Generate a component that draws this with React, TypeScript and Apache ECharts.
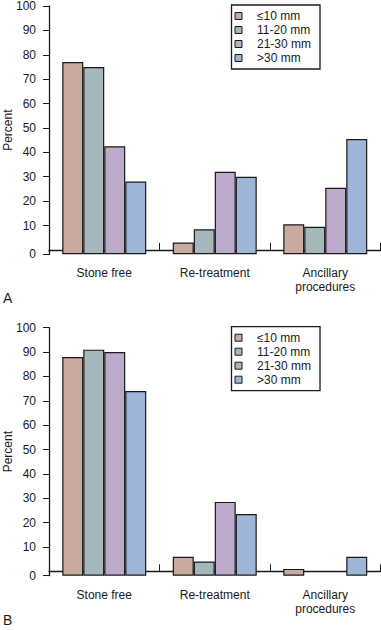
import React, { useEffect, useRef } from "react";
import * as echarts from "echarts";

// Categories and series
const categories = ["Stone free", "Re-treatment", "Ancillary\nprocedures"];
const sizeGroups = ["≤10 mm", "11-20 mm", "21-30 mm", ">30 mm"];

// Panel A values (percent)
const panelA_le10 = [77, 3, 10.5];
const panelA_11to20 = [75, 8.5, 9.5];
const panelA_21to30 = [42.5, 32, 25.5];
const panelA_gt30 = [28, 30, 45.5];

// Panel B values (percent); 0 = no bar drawn
const panelB_le10 = [88, 6, 1];
const panelB_11to20 = [91, 4, 0];
const panelB_21to30 = [90, 28.5, 0];
const panelB_gt30 = [74, 23.5, 6];

// Y tick values (the axis baseline sits slightly below 0 and is labelled "0")
const axisBase = -1.8;
const yTickValues = [axisBase, 10, 20, 30, 40, 50, 60, 70, 80, 90, 100];

const barColors = ["#c8aaa0", "#a5b7ba", "#bdaacb", "#9fb5d7"];
const FONT = "Liberation Sans, Arial, Helvetica, sans-serif";
const INK = "#1a1a1a";

export default function App() {
  const ref = useRef<HTMLDivElement>(null);

  useEffect(() => {
    if (!ref.current) return;
    const chart = echarts.init(ref.current, undefined, { renderer: "svg" });

    const panels = [
      { top: 6, height: 248.3, data: [panelA_le10, panelA_11to20, panelA_21to30, panelA_gt30] },
      { top: 327.7, height: 248, data: [panelB_le10, panelB_11to20, panelB_21to30, panelB_gt30] },
    ];

    const grid = panels.map((p) => ({
      left: 49,
      right: 0.5,
      top: p.top,
      height: p.height,
      containLabel: false,
      outerBoundsMode: "none",
    }));

    const xAxis = panels.map((_, i) => ({
      type: "category",
      gridIndex: i,
      data: categories,
      axisLine: { show: true, lineStyle: { color: INK, width: 1.3 } },
      axisTick: { show: true, inside: true, length: 7, alignWithLabel: false, lineStyle: { color: INK, width: 1 } },
      axisLabel: { margin: 12, color: INK, fontSize: 12, lineHeight: 14, fontFamily: FONT, interval: 0 },
      splitLine: { show: false },
    }));

    const yAxis = panels.map((_, i) => ({
      type: "value",
      gridIndex: i,
      min: axisBase,
      max: 100,
      startValue: axisBase,
      axisLine: { show: true, lineStyle: { color: INK, width: 1.3 } },
      axisTick: { show: true, length: 6, customValues: yTickValues, lineStyle: { color: INK, width: 1 } },
      axisLabel: {
        customValues: yTickValues,
        formatter: (v: number) => (v < 0 ? "0" : String(v)),
        margin: 13,
        color: INK,
        fontSize: 12,
        fontFamily: FONT,
      },
      splitLine: { show: false },
      name: "Percent",
      nameLocation: "middle",
      nameGap: 35,
      nameMoveOverlap: false,
      nameTextStyle: { color: INK, fontSize: 12, fontFamily: FONT },
    }));

    const series: any[] = [];
    panels.forEach((p, pi) => {
      p.data.forEach((vals, si) => {
        series.push({
          type: "bar",
          name: sizeGroups[si],
          xAxisIndex: pi,
          yAxisIndex: pi,
          startValue: axisBase,
          data: vals.map((v) => (v === 0 ? null : v)),
          barGap: "0%",
          barCategoryGap: "24%",
          itemStyle: { color: barColors[si], borderColor: INK, borderWidth: 1.2 },
          emphasis: { disabled: true },
        });
      });
    });

    const legend = panels.map((p) => ({
      data: sizeGroups.map((n) => ({ name: n, icon: "rect" })),
      orient: "vertical",
      left: 231.5,
      top: p.top - 1,
      itemWidth: 7,
      itemHeight: 7,
      itemGap: 0,
      padding: [4, 9, 4, 3],
      borderColor: INK,
      borderWidth: 1.3,
      selectedMode: false,
      itemStyle: { borderColor: INK, borderWidth: 1 },
      textStyle: { color: INK, fontSize: 12, lineHeight: 14, fontFamily: FONT, padding: [0, 0, 0, 10] },
    }));

    chart.setOption({
      animation: false,
      backgroundColor: "#ffffff",
      grid,
      xAxis,
      yAxis,
      series,
      legend,
      graphic: [
        { type: "text", left: 3, top: 291, style: { text: "A", fontSize: 14, fill: INK, fontFamily: FONT } },
        { type: "text", left: 3, top: 613, style: { text: "B", fontSize: 14, fill: INK, fontFamily: FONT } },
      ],
    });

    return () => chart.dispose();
  }, []);

  return (
    <div
      ref={ref}
      style={{ position: "fixed", left: 0, top: 0, width: 381, height: 630, background: "#fff" }}
    />
  );
}
